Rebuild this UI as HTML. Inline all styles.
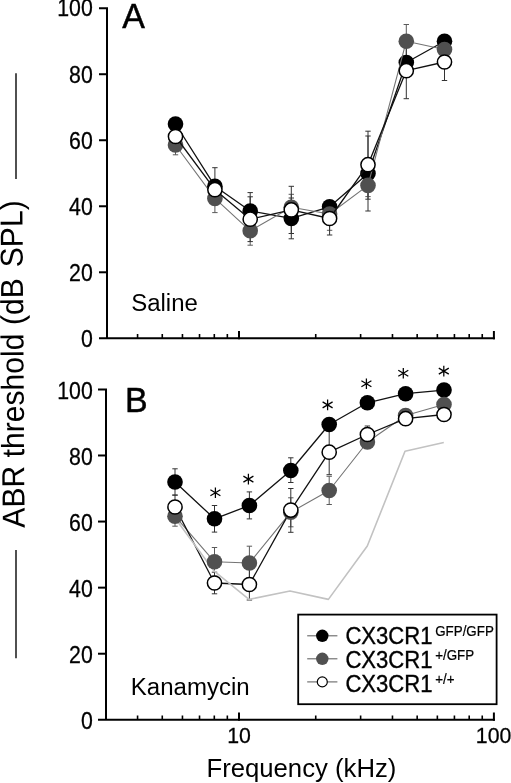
<!DOCTYPE html><html><head><meta charset="utf-8"><title>ABR threshold</title>
<style>html,body{margin:0;padding:0;background:#fff}body{width:511px;height:783px;overflow:hidden}svg{display:block;will-change:transform}text{font-family:"Liberation Sans",sans-serif;fill:#000}</style></head><body>
<svg width="511" height="783" viewBox="0 0 511 783">
<rect width="511" height="783" fill="#fff"/>
<path d="M99.0 8.2H107.0V338.3" fill="none" stroke="#000" stroke-width="2.0" stroke-linejoin="miter"/><path d="M99.0 338.3H494.9" fill="none" stroke="#000" stroke-width="2.0"/><path d="M99.0 272.28H107.0" stroke="#000" stroke-width="2.0"/><path d="M99.0 206.26H107.0" stroke="#000" stroke-width="2.0"/><path d="M99.0 140.24H107.0" stroke="#000" stroke-width="2.0"/><path d="M99.0 74.22H107.0" stroke="#000" stroke-width="2.0"/><text transform="translate(92.80 347.10) scale(1 1.08)" font-size="21.3" text-anchor="end" stroke="#000" stroke-width="0.25">0</text><text transform="translate(92.80 281.08) scale(1 1.08)" font-size="21.3" text-anchor="end" stroke="#000" stroke-width="0.25">20</text><text transform="translate(92.80 215.06) scale(1 1.08)" font-size="21.3" text-anchor="end" stroke="#000" stroke-width="0.25">40</text><text transform="translate(92.80 149.04) scale(1 1.08)" font-size="21.3" text-anchor="end" stroke="#000" stroke-width="0.25">60</text><text transform="translate(92.80 83.02) scale(1 1.08)" font-size="21.3" text-anchor="end" stroke="#000" stroke-width="0.25">80</text><text transform="translate(92.80 16.40) scale(1 1.08)" font-size="21.3" text-anchor="end" stroke="#000" stroke-width="0.25">100</text><path d="M137.57 338.3V334.0" stroke="#000" stroke-width="1.6"/><path d="M162.27 338.3V334.0" stroke="#000" stroke-width="1.6"/><path d="M182.45 338.3V334.0" stroke="#000" stroke-width="1.6"/><path d="M199.52 338.3V334.0" stroke="#000" stroke-width="1.6"/><path d="M214.30 338.3V334.0" stroke="#000" stroke-width="1.6"/><path d="M227.34 338.3V334.0" stroke="#000" stroke-width="1.6"/><path d="M315.73 338.3V334.0" stroke="#000" stroke-width="1.6"/><path d="M360.62 338.3V334.0" stroke="#000" stroke-width="1.6"/><path d="M392.47 338.3V334.0" stroke="#000" stroke-width="1.6"/><path d="M417.17 338.3V334.0" stroke="#000" stroke-width="1.6"/><path d="M437.35 338.3V334.0" stroke="#000" stroke-width="1.6"/><path d="M454.42 338.3V334.0" stroke="#000" stroke-width="1.6"/><path d="M469.20 338.3V334.0" stroke="#000" stroke-width="1.6"/><path d="M482.24 338.3V334.0" stroke="#000" stroke-width="1.6"/><path d="M239.00 339.3V331.0" stroke="#000" stroke-width="2.0"/><path d="M493.90 339.3V331.0" stroke="#000" stroke-width="2.0"/>
<path d="M98.0 389.4H106.0V719.8" fill="none" stroke="#000" stroke-width="2.0" stroke-linejoin="miter"/><path d="M98.0 719.8H494.9" fill="none" stroke="#000" stroke-width="2.0"/><path d="M98.0 653.72H106.0" stroke="#000" stroke-width="2.0"/><path d="M98.0 587.64H106.0" stroke="#000" stroke-width="2.0"/><path d="M98.0 521.56H106.0" stroke="#000" stroke-width="2.0"/><path d="M98.0 455.48H106.0" stroke="#000" stroke-width="2.0"/><text transform="translate(92.80 729.10) scale(1 1.08)" font-size="21.3" text-anchor="end" stroke="#000" stroke-width="0.25">0</text><text transform="translate(92.80 663.02) scale(1 1.08)" font-size="21.3" text-anchor="end" stroke="#000" stroke-width="0.25">20</text><text transform="translate(92.80 596.94) scale(1 1.08)" font-size="21.3" text-anchor="end" stroke="#000" stroke-width="0.25">40</text><text transform="translate(92.80 530.86) scale(1 1.08)" font-size="21.3" text-anchor="end" stroke="#000" stroke-width="0.25">60</text><text transform="translate(92.80 464.78) scale(1 1.08)" font-size="21.3" text-anchor="end" stroke="#000" stroke-width="0.25">80</text><text transform="translate(92.80 398.70) scale(1 1.08)" font-size="21.3" text-anchor="end" stroke="#000" stroke-width="0.25">100</text><path d="M137.57 719.8V715.5" stroke="#000" stroke-width="1.6"/><path d="M162.27 719.8V715.5" stroke="#000" stroke-width="1.6"/><path d="M182.45 719.8V715.5" stroke="#000" stroke-width="1.6"/><path d="M199.52 719.8V715.5" stroke="#000" stroke-width="1.6"/><path d="M214.30 719.8V715.5" stroke="#000" stroke-width="1.6"/><path d="M227.34 719.8V715.5" stroke="#000" stroke-width="1.6"/><path d="M315.73 719.8V715.5" stroke="#000" stroke-width="1.6"/><path d="M360.62 719.8V715.5" stroke="#000" stroke-width="1.6"/><path d="M392.47 719.8V715.5" stroke="#000" stroke-width="1.6"/><path d="M417.17 719.8V715.5" stroke="#000" stroke-width="1.6"/><path d="M437.35 719.8V715.5" stroke="#000" stroke-width="1.6"/><path d="M454.42 719.8V715.5" stroke="#000" stroke-width="1.6"/><path d="M469.20 719.8V715.5" stroke="#000" stroke-width="1.6"/><path d="M482.24 719.8V715.5" stroke="#000" stroke-width="1.6"/><path d="M239.00 720.8V712.5" stroke="#000" stroke-width="2.0"/><path d="M493.90 720.8V712.5" stroke="#000" stroke-width="2.0"/>
<path d="M214.9 167.70V204.70M212.20000000000002 167.70h5.4M212.20000000000002 204.70h5.4" stroke="#333" stroke-width="1.0" fill="none"/><path d="M250.2 192.60V229.40M247.5 192.60h5.4M247.5 229.40h5.4" stroke="#333" stroke-width="1.0" fill="none"/><path d="M291.3 198.00V238.80M288.6 198.00h5.4M288.6 238.80h5.4" stroke="#333" stroke-width="1.0" fill="none"/><path d="M368.0 136.00V211.00M365.3 136.00h5.4M365.3 211.00h5.4" stroke="#333" stroke-width="1.0" fill="none"/>
<path d="M175.5 135.80V154.80M172.8 135.80h5.4M172.8 154.80h5.4" stroke="#5a5a5a" stroke-width="1.0" fill="none"/><path d="M214.9 184.20V212.60M212.20000000000002 184.20h5.4M212.20000000000002 212.60h5.4" stroke="#5a5a5a" stroke-width="1.0" fill="none"/><path d="M250.2 216.40V245.20M247.5 216.40h5.4M247.5 245.20h5.4" stroke="#5a5a5a" stroke-width="1.0" fill="none"/><path d="M291.3 194.30V220.10M288.6 194.30h5.4M288.6 220.10h5.4" stroke="#5a5a5a" stroke-width="1.0" fill="none"/><path d="M329.6 201.00V230.30M326.90000000000003 201.00h5.4M326.90000000000003 230.30h5.4" stroke="#5a5a5a" stroke-width="1.0" fill="none"/><path d="M368.0 174.20V196.60M365.3 174.20h5.4M365.3 196.60h5.4" stroke="#5a5a5a" stroke-width="1.0" fill="none"/><path d="M406.3 24.50V57.90M403.6 24.50h5.4M403.6 57.90h5.4" stroke="#5a5a5a" stroke-width="1.0" fill="none"/>
<path d="M250.2 196.80V241.60M247.5 196.80h5.4M247.5 241.60h5.4" stroke="#333" stroke-width="1.0" fill="none"/><path d="M291.3 186.30V233.50M288.6 186.30h5.4M288.6 233.50h5.4" stroke="#333" stroke-width="1.0" fill="none"/><path d="M329.6 202.00V235.00M326.90000000000003 202.00h5.4M326.90000000000003 235.00h5.4" stroke="#333" stroke-width="1.0" fill="none"/><path d="M368.0 131.20V199.20M365.3 131.20h5.4M365.3 199.20h5.4" stroke="#333" stroke-width="1.0" fill="none"/><path d="M406.3 42.70V98.70M403.6 42.70h5.4M403.6 98.70h5.4" stroke="#333" stroke-width="1.0" fill="none"/><path d="M444.5 43.50V80.50M441.8 43.50h5.4M441.8 80.50h5.4" stroke="#333" stroke-width="1.0" fill="none"/>
<path d="M175.5 124.0L214.9 186.2L250.2 211.0L291.3 218.4L329.6 206.8L368.0 173.5L406.3 62.5L444.5 41.2" fill="none" stroke="#111" stroke-width="1.3" stroke-linejoin="round"/><circle cx="175.5" cy="124.0" r="7.8" fill="#000"/><circle cx="214.9" cy="186.2" r="7.8" fill="#000"/><circle cx="250.2" cy="211.0" r="7.8" fill="#000"/><circle cx="291.3" cy="218.4" r="7.8" fill="#000"/><circle cx="329.6" cy="206.8" r="7.8" fill="#000"/><circle cx="368.0" cy="173.5" r="7.8" fill="#000"/><circle cx="406.3" cy="62.5" r="7.8" fill="#000"/><circle cx="444.5" cy="41.2" r="7.8" fill="#000"/>
<path d="M175.5 145.0L214.9 198.4L250.2 230.8L291.3 207.2L329.6 214.0L368.0 185.4L406.3 41.2L444.5 49.5" fill="none" stroke="#747474" stroke-width="1.1" stroke-linejoin="round"/><circle cx="175.5" cy="145.0" r="7.8" fill="#505050"/><circle cx="214.9" cy="198.4" r="7.8" fill="#505050"/><circle cx="250.2" cy="230.8" r="7.8" fill="#505050"/><circle cx="291.3" cy="207.2" r="7.8" fill="#505050"/><circle cx="329.6" cy="214.0" r="7.8" fill="#505050"/><circle cx="368.0" cy="185.4" r="7.8" fill="#505050"/><circle cx="406.3" cy="41.2" r="7.8" fill="#505050"/><circle cx="444.5" cy="49.5" r="7.8" fill="#505050"/>
<path d="M175.5 136.5L214.9 189.7L250.2 219.2L291.3 209.9L329.6 218.5L368.0 164.7L406.3 70.7L444.5 62.0" fill="none" stroke="#111" stroke-width="1.3" stroke-linejoin="round"/><circle cx="175.5" cy="136.5" r="7.1" fill="#fff" stroke="#000" stroke-width="1.5"/><circle cx="214.9" cy="189.7" r="7.1" fill="#fff" stroke="#000" stroke-width="1.5"/><circle cx="250.2" cy="219.2" r="7.1" fill="#fff" stroke="#000" stroke-width="1.5"/><circle cx="291.3" cy="209.9" r="7.1" fill="#fff" stroke="#000" stroke-width="1.5"/><circle cx="329.6" cy="218.5" r="7.1" fill="#fff" stroke="#000" stroke-width="1.5"/><circle cx="368.0" cy="164.7" r="7.1" fill="#fff" stroke="#000" stroke-width="1.5"/><circle cx="406.3" cy="70.7" r="7.1" fill="#fff" stroke="#000" stroke-width="1.5"/><circle cx="444.5" cy="62.0" r="7.1" fill="#fff" stroke="#000" stroke-width="1.5"/>
<path d="M175.0 468.80V495.20M172.3 468.80h5.4M172.3 495.20h5.4" stroke="#333" stroke-width="1.0" fill="none"/><path d="M214.5 505.50V532.10M211.8 505.50h5.4M211.8 532.10h5.4" stroke="#333" stroke-width="1.0" fill="none"/><path d="M249.4 491.90V518.90M246.70000000000002 491.90h5.4M246.70000000000002 518.90h5.4" stroke="#333" stroke-width="1.0" fill="none"/><path d="M290.8 457.80V482.50M288.1 457.80h5.4M288.1 482.50h5.4" stroke="#333" stroke-width="1.0" fill="none"/>
<path d="M175.0 506.20V526.20M172.3 506.20h5.4M172.3 526.20h5.4" stroke="#5a5a5a" stroke-width="1.0" fill="none"/><path d="M214.5 547.50V576.10M211.8 547.50h5.4M211.8 576.10h5.4" stroke="#5a5a5a" stroke-width="1.0" fill="none"/><path d="M249.4 546.20V579.80M246.70000000000002 546.20h5.4M246.70000000000002 579.80h5.4" stroke="#5a5a5a" stroke-width="1.0" fill="none"/><path d="M290.8 497.80V526.80M288.1 497.80h5.4M288.1 526.80h5.4" stroke="#5a5a5a" stroke-width="1.0" fill="none"/><path d="M329.2 476.30V504.50M326.5 476.30h5.4M326.5 504.50h5.4" stroke="#5a5a5a" stroke-width="1.0" fill="none"/>
<path d="M175.0 495.00V519.00M172.3 495.00h5.4M172.3 519.00h5.4" stroke="#333" stroke-width="1.0" fill="none"/><path d="M214.5 572.20V593.80M211.8 572.20h5.4M211.8 593.80h5.4" stroke="#333" stroke-width="1.0" fill="none"/><path d="M249.4 569.00V600.00M246.70000000000002 569.00h5.4M246.70000000000002 600.00h5.4" stroke="#333" stroke-width="1.0" fill="none"/><path d="M290.8 488.50V532.30M288.1 488.50h5.4M288.1 532.30h5.4" stroke="#333" stroke-width="1.0" fill="none"/><path d="M329.2 429.70V474.70M326.5 429.70h5.4M326.5 474.70h5.4" stroke="#333" stroke-width="1.0" fill="none"/><path d="M367.4 426.00V443.00M364.7 426.00h5.4M364.7 443.00h5.4" stroke="#333" stroke-width="1.0" fill="none"/>
<path d="M175.0 482.0L214.5 518.8L249.4 505.5L290.8 470.5L329.2 424.5L367.4 402.8L405.6 393.7L444.0 390.1" fill="none" stroke="#111" stroke-width="1.3" stroke-linejoin="round"/>
<path d="M175.0 516.2L214.5 561.8L249.4 563.0L290.8 512.2L329.2 490.5L367.4 442.0L405.6 415.5L444.0 404.5" fill="none" stroke="#747474" stroke-width="1.1" stroke-linejoin="round"/>
<path d="M175.0 507.0L214.5 583.0L249.4 584.5L290.8 510.1L329.2 452.2L367.4 434.5L405.6 418.7L444.0 414.5" fill="none" stroke="#111" stroke-width="1.3" stroke-linejoin="round"/>
<path d="M174.8 517.80L214.2 571.20L249.0 599.40L290.0 591.00L328.4 599.40L367.3 546.00L405.0 451.30L443.8 442.50" fill="none" stroke="#c2c2c2" stroke-width="1.6" stroke-linejoin="round"/>
<circle cx="175.0" cy="482.0" r="7.8" fill="#000"/><circle cx="214.5" cy="518.8" r="7.8" fill="#000"/><circle cx="249.4" cy="505.5" r="7.8" fill="#000"/><circle cx="290.8" cy="470.5" r="7.8" fill="#000"/><circle cx="329.2" cy="424.5" r="7.8" fill="#000"/><circle cx="367.4" cy="402.8" r="7.8" fill="#000"/><circle cx="405.6" cy="393.7" r="7.8" fill="#000"/><circle cx="444.0" cy="390.1" r="7.8" fill="#000"/>
<circle cx="175.0" cy="516.2" r="7.8" fill="#505050"/><circle cx="214.5" cy="561.8" r="7.8" fill="#505050"/><circle cx="249.4" cy="563.0" r="7.8" fill="#505050"/><circle cx="290.8" cy="512.2" r="7.8" fill="#505050"/><circle cx="329.2" cy="490.5" r="7.8" fill="#505050"/><circle cx="367.4" cy="442.0" r="7.8" fill="#505050"/><circle cx="405.6" cy="415.5" r="7.8" fill="#505050"/><circle cx="444.0" cy="404.5" r="7.8" fill="#505050"/>
<circle cx="175.0" cy="507.0" r="7.1" fill="#fff" stroke="#000" stroke-width="1.5"/><circle cx="214.5" cy="583.0" r="7.1" fill="#fff" stroke="#000" stroke-width="1.5"/><circle cx="249.4" cy="584.5" r="7.1" fill="#fff" stroke="#000" stroke-width="1.5"/><circle cx="290.8" cy="510.1" r="7.1" fill="#fff" stroke="#000" stroke-width="1.5"/><circle cx="329.2" cy="452.2" r="7.1" fill="#fff" stroke="#000" stroke-width="1.5"/><circle cx="367.4" cy="434.5" r="7.1" fill="#fff" stroke="#000" stroke-width="1.5"/><circle cx="405.6" cy="418.7" r="7.1" fill="#fff" stroke="#000" stroke-width="1.5"/><circle cx="444.0" cy="414.5" r="7.1" fill="#fff" stroke="#000" stroke-width="1.5"/>
<g transform="translate(215.4 492.8)" stroke="#000" stroke-width="1.25" stroke-linecap="butt"><path d="M0 -5.3V5.3M-5 -3L5 3M-5 3L5 -3"/></g>
<g transform="translate(248.4 479.1)" stroke="#000" stroke-width="1.25" stroke-linecap="butt"><path d="M0 -5.3V5.3M-5 -3L5 3M-5 3L5 -3"/></g>
<g transform="translate(327.6 404.9)" stroke="#000" stroke-width="1.25" stroke-linecap="butt"><path d="M0 -5.3V5.3M-5 -3L5 3M-5 3L5 -3"/></g>
<g transform="translate(366.4 383.8)" stroke="#000" stroke-width="1.25" stroke-linecap="butt"><path d="M0 -5.3V5.3M-5 -3L5 3M-5 3L5 -3"/></g>
<g transform="translate(403.3 373.2)" stroke="#000" stroke-width="1.25" stroke-linecap="butt"><path d="M0 -5.3V5.3M-5 -3L5 3M-5 3L5 -3"/></g>
<g transform="translate(443.8 371.1)" stroke="#000" stroke-width="1.25" stroke-linecap="butt"><path d="M0 -5.3V5.3M-5 -3L5 3M-5 3L5 -3"/></g>
<text transform="translate(122.20 27.60) scale(1 1.045)" font-size="34" text-anchor="start" stroke="#000" stroke-width="0.45">A</text>
<text transform="translate(125.00 411.80) scale(1 1.045)" font-size="34" text-anchor="start" stroke="#000" stroke-width="0.45">B</text>
<text transform="translate(131.20 311.20) scale(1 1.07)" font-size="22" text-anchor="start" textLength="66.6" lengthAdjust="spacingAndGlyphs">Saline</text>
<text transform="translate(130.80 695.30) scale(1 1.07)" font-size="22" text-anchor="start" textLength="118.8" lengthAdjust="spacingAndGlyphs">Kanamycin</text>
<text transform="translate(239.00 743.10) scale(1 1.04)" font-size="21.3" text-anchor="middle" stroke="#000" stroke-width="0.25">10</text>
<text transform="translate(493.60 743.20) scale(1 1.04)" font-size="21.3" text-anchor="middle" stroke="#000" stroke-width="0.25">100</text>
<text transform="translate(301.40 776.90) scale(1 1.0)" font-size="25.7" text-anchor="middle">Frequency (kHz)</text>
<text transform="translate(23.5 364.0) rotate(-90.4) scale(1.004 1.06)" font-size="30" text-anchor="middle">ABR threshold (dB<tspan dx="2.6"> SPL)</tspan></text>
<path d="M16 73.3V179M16 550V658.3" stroke="#333" stroke-width="1.7"/>
<rect x="298.2" y="614.6" width="198.4" height="89.6" fill="#fff" stroke="#000" stroke-width="1.8"/>
<path d="M307.2 635.8H337.4" stroke="#666" stroke-width="1.1"/>
<circle cx="322.3" cy="635.8" r="6.2" fill="#000"/>
<text transform="translate(345.40 644.10) scale(1 1.07)" font-size="22.1" text-anchor="start" stroke="#000" stroke-width="0.35">CX3CR1<tspan font-size="13.35" dx="2.7" dy="-7.5" stroke-width="0.2">GFP/GFP</tspan></text>
<path d="M307.2 658.8H337.4" stroke="#666" stroke-width="1.1"/>
<circle cx="322.3" cy="658.8" r="6.2" fill="#505050"/>
<text transform="translate(345.40 668.00) scale(1 1.07)" font-size="22.1" text-anchor="start" stroke="#000" stroke-width="0.35">CX3CR1<tspan font-size="13.35" dx="2.7" dy="-7.5" stroke-width="0.2">+/GFP</tspan></text>
<path d="M307.2 681.9H337.4" stroke="#666" stroke-width="1.1"/>
<circle cx="322.3" cy="681.9" r="5.0" fill="#fff" stroke="#000" stroke-width="1.2"/>
<text transform="translate(345.40 692.00) scale(1 1.07)" font-size="22.1" text-anchor="start" stroke="#000" stroke-width="0.35">CX3CR1<tspan font-size="13.35" dx="2.7" dy="-7.5" stroke-width="0.2">+/+</tspan></text>
</svg></body></html>
